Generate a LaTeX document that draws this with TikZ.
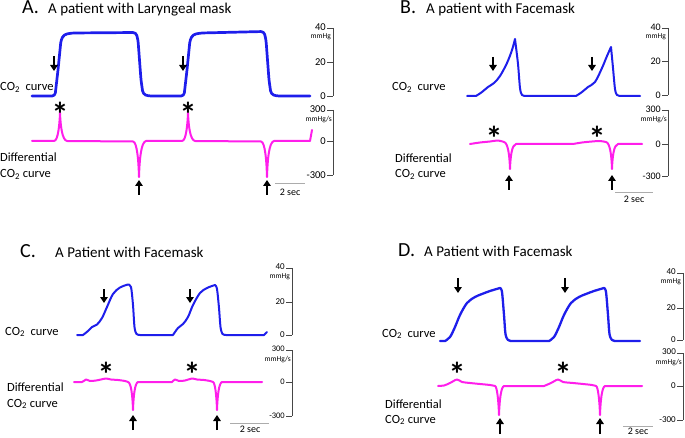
\documentclass[tikz,border=0pt]{standalone}
\usepackage{fontspec}
\setmainfont{Carlito}
\usetikzlibrary{arrows.meta}
\definecolor{cob}{RGB}{30,30,235}
\definecolor{dmag}{RGB}{255,30,235}
\definecolor{axg}{RGB}{70,70,70}
\tikzset{
  co2/.style={draw=cob, line width=2pt, line join=round, line cap=round},
  dco2/.style={draw=dmag, line width=2pt, line join=round, line cap=round},
  darr/.style={-{Triangle[length=6pt,width=7.5pt]}, line width=2.8pt, black},
  axl/.style={draw=axg, line width=0.7pt},
  sbar/.style={draw=gray!65, line width=1pt},
  ptitle/.style={anchor=base west, inner sep=0, font=\fontsize{15}{18}\selectfont},
  pletter/.style={anchor=base west, inner sep=0, font=\fontsize{20}{24}\selectfont},
  clab/.style={anchor=base west, inner sep=0, font=\fontsize{12.5}{15}\selectfont},
  tlab/.style={anchor=east, inner sep=0},
  ulab/.style={anchor=north east, inner sep=0, font=\fontsize{7.5}{9}\selectfont},
  starlab/.style={anchor=north, inner sep=0, font=\fontsize{34}{34}\selectfont\bfseries},
  seclab/.style={anchor=north, inner sep=0, font=\fontsize{10}{12}\selectfont},
}
% CO2 axis: prefix, x, ytop, ymid, ybot, fontsize
\newcommand\coaxis[6]{%
  \draw[axl] (#2,#3) -- (#2,#5);
  \draw[axl] (#2-6,#3) -- (#2,#3) (#2-6,#4) -- (#2,#4) (#2-6,#5) -- (#2,#5);
  \node[tlab,font=\fontsize{#6}{#6}\selectfont] (#1a) at (#2-7,#3-1) {40};
  \node[tlab,font=\fontsize{#6}{#6}\selectfont] (#1b) at (#2-7,#4) {20};
  \node[tlab,font=\fontsize{#6}{#6}\selectfont] (#1c) at (#2-7,#5) {0};
  \node[ulab] (#1u) at (#2-2,#3+5) {mmHg};
}
% differential axis: prefix, x, ytop, ymid, ybot, fontsize
\newcommand\diffaxis[6]{%
  \draw[axl] (#2,#3) -- (#2,#5);
  \draw[axl] (#2-6,#3) -- (#2,#3) (#2-6,#4) -- (#2,#4) (#2-6,#5) -- (#2,#5);
  \node[tlab,font=\fontsize{#6}{#6}\selectfont] (#1a) at (#2-7,#3-1) {300};
  \node[tlab,font=\fontsize{#6}{#6}\selectfont] (#1b) at (#2-7,#4) {0};
  \node[tlab,font=\fontsize{#6}{#6}\selectfont] (#1c) at (#2-7,#5) {-300};
  \node[ulab] (#1u) at (#2-1,#3+6) {mmHg/s};
}
\begin{document}
\begin{tikzpicture}[x=1pt,y=-1pt]
\useasboundingbox (0,0) rectangle (685,438);

% ================= Panel A =================
\node[pletter] (Aletter) at (22,14) {A.};
\node[ptitle] (Atitle) at (48,14) {A patient with Laryngeal mask};
\node[clab] (Aco2) at (0,91) {CO\textsubscript{2}\ \ curve};
\node[clab] (Adiff1) at (0,162) {Differential};
\node[clab] (Adiff2) at (0,178) {CO\textsubscript{2} curve};
\draw[co2, line width=2.7pt, rounded corners=3pt] (32,96) -- (55,96) -- (58,70) -- (61,40) -- (64,34.5) -- (72,33) -- (136,32.5) -- (138,40) -- (141,80) -- (143,94) -- (148,96) -- (184,96) -- (187,70) -- (190,40) -- (193,34.5) -- (201,33) -- (264,31.5) -- (266,40) -- (269,80) -- (271,94) -- (276,96) -- (310,96);
\draw[dco2] (32,141) -- (54,141) .. controls (58,141) and (59.5,125) .. (60,113) .. controls (60.5,125) and (62,140) .. (67,141) -- (133,141.5) .. controls (137,142) and (138.5,160) .. (139,177) .. controls (139.5,160) and (141,142) .. (146,141) -- (182,141) .. controls (186,141) and (187.5,125) .. (188,113) .. controls (188.5,125) and (190,140) .. (195,141) -- (261,141.5) .. controls (265,142) and (266.5,160) .. (267,177) .. controls (267.5,160) and (269,142) .. (274,141) -- (310,141) -- (312,130);
\coaxis{Aax}{333}{28}{62}{96}{10.5}
\diffaxis{Adx}{333}{110}{141}{175}{10.5}
\coordinate (Ad1s) at (54,56); \coordinate (Ad1e) at (54,71);
\coordinate (Ad2s) at (183,56); \coordinate (Ad2e) at (183,71);
\draw[darr] (Ad1s) -- (Ad1e);
\draw[darr] (Ad2s) -- (Ad2e);
\coordinate (Au1s) at (139,195); \coordinate (Au1e) at (139,180);
\coordinate (Au2s) at (267,195); \coordinate (Au2e) at (267,180);
\draw[darr] (Au1s) -- (Au1e);
\draw[darr] (Au2s) -- (Au2e);
\node[starlab] (As1) at (60,102) {*};
\node[starlab] (As2) at (188,102) {*};
\coordinate (Asb1) at (275,184); \coordinate (Asb2) at (305,184);
\draw[sbar] (Asb1) -- (Asb2);
\node[seclab] (Asec) at (290,189) {2 sec};

% ================= Panel B =================
\node[pletter] (Bletter) at (400,14) {B.};
\node[ptitle] (Btitle) at (426,14) {A patient with Facemask};
\node[clab] (Bco2) at (392,91) {CO\textsubscript{2}\ \ curve};
\node[clab] (Bdiff1) at (395,163) {Differential};
\node[clab] (Bdiff2) at (395,178) {CO\textsubscript{2} curve};
\draw[co2] (467,96) -- (476,96)
  -- plot[smooth, tension=0.55] coordinates {(476,96) (482,92) (488,87) (494,83) (500,76) (507,63) (512,50) (515,39)}
  -- plot[smooth, tension=0.5] coordinates {(515,39) (518,64) (520,88) (522,95) (526,96)}
  -- (576,96)
  -- plot[smooth, tension=0.55] coordinates {(576,96) (582,92) (588,87) (595,82) (602,68) (607,56) (611,47)}
  -- plot[smooth, tension=0.5] coordinates {(611,47) (613,68) (615,89) (617,95) (621,96)}
  -- (640,96);
\draw[dco2] (470,144) -- plot[smooth, tension=0.5] coordinates {(470,144) (480,142.5) (490,141.5) (498,140.5) (504,142)}
  .. controls (508,143) and (509.5,155) .. (510,169) .. controls (510.5,155) and (512,145) .. (516,144)
  -- (573,144) -- plot[smooth, tension=0.5] coordinates {(573,144) (582,142.5) (592,141.5) (600,141) (606,142)}
  .. controls (610,143) and (611.5,155) .. (612,169) .. controls (612.5,155) and (614,145) .. (618,144)
  -- (642,144);
\coaxis{Bax}{668}{28}{61}{95}{10}
\diffaxis{Bdx}{668}{110}{144}{176}{10}
\coordinate (Bd1s) at (493,57); \coordinate (Bd1e) at (493,71);
\coordinate (Bd2s) at (592,57); \coordinate (Bd2e) at (592,71);
\draw[darr] (Bd1s) -- (Bd1e);
\draw[darr] (Bd2s) -- (Bd2e);
\coordinate (Bu1s) at (509,190); \coordinate (Bu1e) at (509,175);
\coordinate (Bu2s) at (612,190); \coordinate (Bu2e) at (612,175);
\draw[darr] (Bu1s) -- (Bu1e);
\draw[darr] (Bu2s) -- (Bu2e);
\node[starlab] (Bs1) at (494,126) {*};
\node[starlab] (Bs2) at (597,126) {*};
\coordinate (Bsb1) at (615,193); \coordinate (Bsb2) at (653,193);
\draw[sbar] (Bsb1) -- (Bsb2);
\node[seclab] (Bsec) at (634,196) {2 sec};

% ================= Panel C =================
\node[pletter] (Cletter) at (20,258) {C.};
\node[ptitle] (Ctitle) at (55,258) {A Patient with Facemask};
\node[clab] (Cco2) at (5,335) {CO\textsubscript{2}\ \ curve};
\node[clab] (Cdiff1) at (7,391) {Differential};
\node[clab] (Cdiff2) at (7,407) {CO\textsubscript{2} curve};
\draw[co2] (77,335) -- (83,335)
  -- plot[smooth, tension=0.55] coordinates {(83,335) (88,331) (92,327) (97,324.5) (102,318) (107,307) (113,294) (120,287.5) (128,284.5)}
  -- plot[smooth, tension=0.5] coordinates {(128,284.5) (131,287) (133,305) (134.5,327) (136.5,334) (140,335)}
  -- (173,335)
  -- plot[smooth, tension=0.55] coordinates {(173,335) (178,328) (183,324) (188,317) (193,305) (200,293) (207,288) (215,285)}
  -- plot[smooth, tension=0.5] coordinates {(215,285) (217,289) (219,308) (220.5,327) (222.5,334) (226,335)}
  -- (264,335) -- (267,332);
\draw[dco2] (74,382) -- plot[smooth, tension=0.5] coordinates {(74,382) (82,382) (86,379.5) (90,381) (96,380.5) (101,379.5) (106,378.5) (111,379.5) (118,380) (125,381) (128,382)}
  .. controls (131,382.5) and (132.5,395) .. (133,410) .. controls (133.5,395) and (135,383) .. (138,382)
  -- (172,382) -- plot[smooth, tension=0.5] coordinates {(172,382) (175,379.5) (179,381) (185,380.5) (192,378.5) (197,379.5) (204,380) (210,381) (213,382)}
  .. controls (215,382.5) and (216.5,395) .. (217,410) .. controls (217.5,395) and (219,383) .. (222,382)
  -- (262,382);
\coaxis{Cax}{292}{268}{302}{335}{9}
\diffaxis{Cdx}{292}{350}{382}{416}{8.5}
\coordinate (Cd1s) at (104,289); \coordinate (Cd1e) at (104,303);
\coordinate (Cd2s) at (190,289); \coordinate (Cd2e) at (190,303);
\draw[darr] (Cd1s) -- (Cd1e);
\draw[darr] (Cd2s) -- (Cd2e);
\coordinate (Cu1s) at (133,430); \coordinate (Cu1e) at (133,415);
\coordinate (Cu2s) at (217,430); \coordinate (Cu2e) at (217,415);
\draw[darr] (Cu1s) -- (Cu1e);
\draw[darr] (Cu2s) -- (Cu2e);
\node[starlab] (Cs1) at (106,362) {*};
\node[starlab] (Cs2) at (192,362) {*};
\coordinate (Csb1) at (230,423); \coordinate (Csb2) at (269,423);
\draw[sbar] (Csb1) -- (Csb2);
\node[seclab] (Csec) at (250,426) {2 sec};

% ================= Panel D =================
\node[pletter] (Dletter) at (398,257) {D.};
\node[ptitle] (Dtitle) at (424,257) {A Patient with Facemask};
\node[clab] (Dco2) at (382,337) {CO\textsubscript{2}\ \ curve};
\node[clab] (Ddiff1) at (385,408) {Differential};
\node[clab] (Ddiff2) at (385,423) {CO\textsubscript{2} curve};
\draw[co2, line width=2.3pt] (440,341) -- (445,341)
  -- plot[smooth, tension=0.55] coordinates {(445,341) (450,337) (455,327) (460,315) (467,303) (475,297) (482,294) (490,291) (500,288)}
  -- plot[smooth, tension=0.5] coordinates {(500,288) (502,292) (504,315) (505.5,334) (508,340) (512,341)}
  -- (549,341)
  -- plot[smooth, tension=0.55] coordinates {(549,341) (554,337) (559,327) (564,315) (571,303) (579,297) (586,294) (594,291) (604,288)}
  -- plot[smooth, tension=0.5] coordinates {(604,288) (606,292) (608,315) (609.5,334) (612,340) (616,341)}
  -- (640,341);
\draw[dco2] (438,386) -- plot[smooth, tension=0.5] coordinates {(438,386) (444,385.5) (450,383) (457,379.5) (462,382) (470,383) (480,384) (490,385) (495,386)}
  .. controls (497,386.5) and (498.5,400) .. (499,415) .. controls (499.5,400) and (501,387) .. (504,386)
  -- (544,386) -- plot[smooth, tension=0.5] coordinates {(544,386) (551,383) (558,379.5) (563,382) (573,383) (583,384) (592,385) (596,386)}
  .. controls (598,386.5) and (599.5,400) .. (600,415) .. controls (600.5,400) and (602,387) .. (605,386)
  -- (642,386);
\coaxis{Dax}{683}{273}{308}{340}{9}
\diffaxis{Ddx}{683}{353}{386}{420}{9}
\coordinate (Dd1s) at (458,278); \coordinate (Dd1e) at (458,293);
\coordinate (Dd2s) at (565,278); \coordinate (Dd2e) at (565,293);
\draw[darr] (Dd1s) -- (Dd1e);
\draw[darr] (Dd2s) -- (Dd2e);
\coordinate (Du1s) at (500,434); \coordinate (Du1e) at (500,418);
\coordinate (Du2s) at (600,434); \coordinate (Du2e) at (600,418);
\draw[darr] (Du1s) -- (Du1e);
\draw[darr] (Du2s) -- (Du2e);
\node[starlab] (Ds1) at (457,362) {*};
\node[starlab] (Ds2) at (563,362) {*};
\coordinate (Dsb1) at (623,426); \coordinate (Dsb2) at (653,426);
\draw[sbar] (Dsb1) -- (Dsb2);
\node[seclab] (Dsec) at (638,428) {2 sec};
\end{tikzpicture}
\end{document}
